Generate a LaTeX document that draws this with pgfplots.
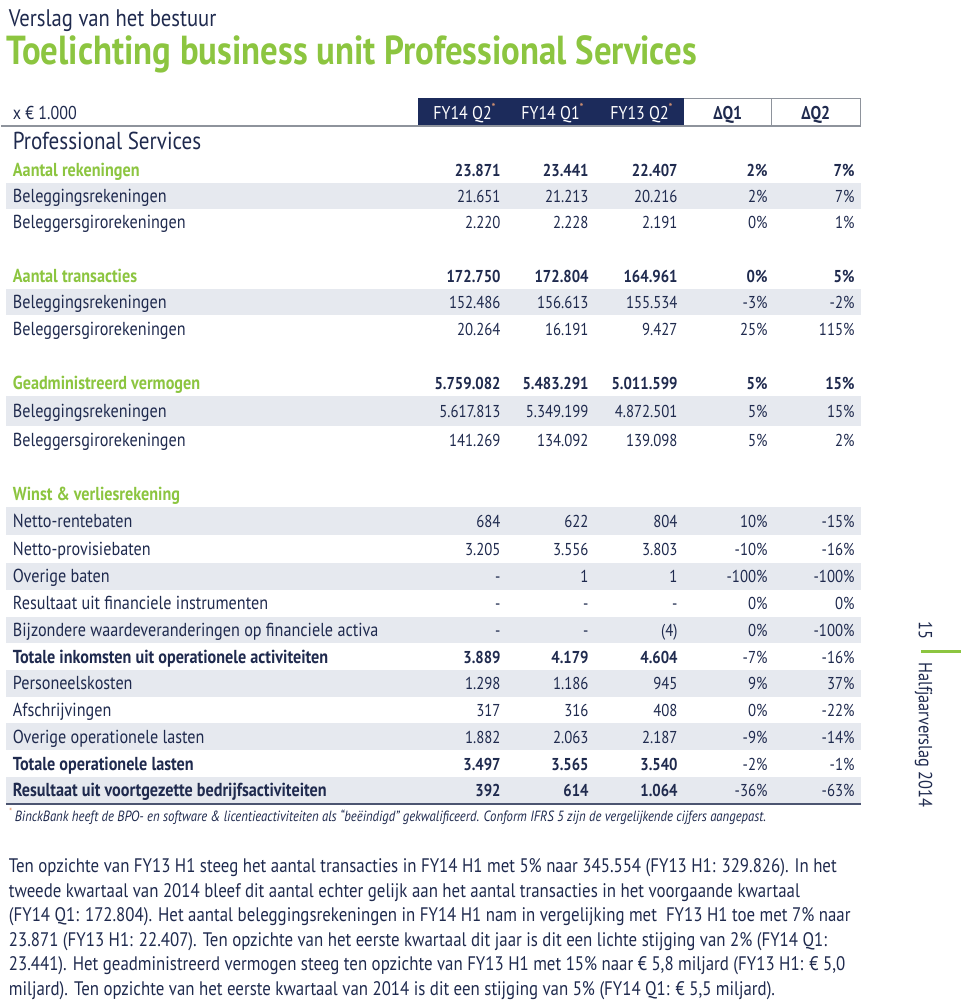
\documentclass[border=0pt]{standalone}
\usepackage{fontspec}
\setmainfont[FakeStretch=0.86]{PT Sans}
\usepackage{pgfplots}
\pgfplotsset{compat=1.18}
\definecolor{navy}{HTML}{1F2A4E}
\definecolor{hdr}{HTML}{1C2B5B}
\definecolor{grn}{HTML}{8CC540}
\definecolor{shd}{HTML}{E6E9EF}
\definecolor{gline}{HTML}{8E939C}
\definecolor{ast}{HTML}{E39A73}
\newcommand\fs[1]{\fontsize{#1bp}{#1bp}\selectfont}
\newcommand\band[2]{\fill[shd] (axis cs:5,#1) rectangle (axis cs:860,#2);}
% row: baseline y, label, v1..v5, font
\newcommand\row[8]{%
  \node[anchor=base west,inner sep=0,text=navy,font=\fs{18.8}#8] at (axis cs:12,#1) {#2};
  \node[anchor=base east,inner sep=0,text=navy,font=\fs{17.2}#8] at (axis cs:500,#1) {#3};
  \node[anchor=base east,inner sep=0,text=navy,font=\fs{17.2}#8] at (axis cs:588,#1) {#4};
  \node[anchor=base east,inner sep=0,text=navy,font=\fs{17.2}#8] at (axis cs:677,#1) {#5};
  \node[anchor=base east,inner sep=0,text=navy,font=\fs{17.2}] at (axis cs:767,#1) {#6};
  \node[anchor=base east,inner sep=0,text=navy,font=\fs{17.2}] at (axis cs:854,#1) {#7};
}
\newcommand\grow[7]{%
  \node[anchor=base west,inner sep=0,text=grn,font=\fs{18.8}\bfseries] at (axis cs:12,#1) {#2};
  \node[anchor=base east,inner sep=0,text=navy,font=\fs{17.2}\bfseries] at (axis cs:500,#1) {#3};
  \node[anchor=base east,inner sep=0,text=navy,font=\fs{17.2}\bfseries] at (axis cs:588,#1) {#4};
  \node[anchor=base east,inner sep=0,text=navy,font=\fs{17.2}\bfseries] at (axis cs:677,#1) {#5};
  \node[anchor=base east,inner sep=0,text=navy,font=\fs{17.2}\bfseries] at (axis cs:767,#1) {#6};
  \node[anchor=base east,inner sep=0,text=navy,font=\fs{17.2}\bfseries] at (axis cs:854,#1) {#7};
}
\newcommand\para[2]{\node[anchor=base west,inner sep=0,text=navy,font=\fs{19.6}] at (axis cs:8,#1) {#2};}
\begin{document}
\begin{tikzpicture}
\begin{axis}[x=1bp,y=1bp,y dir=reverse,xmin=0,xmax=960,ymin=0,ymax=1001,
  hide axis,clip=false]
\path (axis cs:0,0) rectangle (axis cs:960,1001);
% titles
\node[anchor=base west,inner sep=0,text=navy,font=\fs{24}] at (axis cs:8,26) {Verslag van het bestuur};
\node[anchor=base west,inner sep=0,text=grn,font=\fs{40.5}\bfseries] at (axis cs:6,64) {Toelichting business unit Professional Services};
% header
\fill[hdr] (axis cs:417,98) rectangle (axis cs:683,126);
\draw[gline,line width=1.2bp] (axis cs:683,98.5) -- (axis cs:860,98.5) -- (axis cs:860,126);
\draw[gline,line width=1.2bp] (axis cs:771,98.5) -- (axis cs:771,126);
\draw[gline,line width=1.5bp] (axis cs:0,126) -- (axis cs:860,126);
\node[anchor=base west,inner sep=0,text=navy,font=\fs{18.6}] at (axis cs:12,119) {x € 1.000};
\node[anchor=base,inner sep=0,text=white,font=\fs{18.5}] at (axis cs:464,119) {FY14 Q2\textsuperscript{\textcolor{ast}{*}}};
\node[anchor=base,inner sep=0,text=white,font=\fs{18.5}] at (axis cs:552,119) {FY14 Q1\textsuperscript{\textcolor{ast}{*}}};
\node[anchor=base,inner sep=0,text=white,font=\fs{18.5}] at (axis cs:641,119) {FY13 Q2\textsuperscript{\textcolor{ast}{*}}};
\node[anchor=base,inner sep=0,text=navy,font=\fs{18.5}\bfseries] at (axis cs:727,119) {ΔQ1};
\node[anchor=base,inner sep=0,text=navy,font=\fs{18.5}\bfseries] at (axis cs:815,119) {ΔQ2};
\node[anchor=base west,inner sep=0,text=navy,font=\fs{24.5}] at (axis cs:12,149) {Professional Services};
% bands
\band{183}{209}
\band{289}{315}
\band{396}{426}
\band{507}{535}
\band{563}{590}
\band{617}{643}
\band{670}{697}
\band{723}{750}
\band{777}{803}
% section 1
\grow{176}{Aantal rekeningen}{23.871}{23.441}{22.407}{2\%}{7\%}
\row{202}{Beleggingsrekeningen}{21.651}{21.213}{20.216}{2\%}{7\%}{}
\row{228}{Beleggersgirorekeningen}{2.220}{2.228}{2.191}{0\%}{1\%}{}
% section 2
\grow{282}{Aantal transacties}{172.750}{172.804}{164.961}{0\%}{5\%}
\row{308}{Beleggingsrekeningen}{152.486}{156.613}{155.534}{-3\%}{-2\%}{}
\row{335}{Beleggersgirorekeningen}{20.264}{16.191}{9.427}{25\%}{115\%}{}
% section 3
\grow{389}{Geadministreerd vermogen}{5.759.082}{5.483.291}{5.011.599}{5\%}{15\%}
\row{417}{Beleggingsrekeningen}{5.617.813}{5.349.199}{4.872.501}{5\%}{15\%}{}
\row{446}{Beleggersgirorekeningen}{141.269}{134.092}{139.098}{5\%}{2\%}{}
% section 4
\node[anchor=base west,inner sep=0,text=grn,font=\fs{18.8}\bfseries] at (axis cs:12,500) {Winst \& verliesrekening};
\row{527}{Netto-rentebaten}{684}{622}{804}{10\%}{-15\%}{}
\row{555}{Netto-provisiebaten}{3.205}{3.556}{3.803}{-10\%}{-16\%}{}
\row{582}{Overige baten}{-}{1}{1}{-100\%}{-100\%}{}
\row{609}{Resultaat uit financiele instrumenten}{-}{-}{-}{0\%}{0\%}{}
\row{636}{Bijzondere waardeveranderingen op financiele activa}{-}{-}{(4)}{0\%}{-100\%}{}
\row{663}{Totale inkomsten uit operationele activiteiten}{3.889}{4.179}{4.604}{-7\%}{-16\%}{\bfseries}
\row{689}{Personeelskosten}{1.298}{1.186}{945}{9\%}{37\%}{}
\row{716}{Afschrijvingen}{317}{316}{408}{0\%}{-22\%}{}
\row{743}{Overige operationele lasten}{1.882}{2.063}{2.187}{-9\%}{-14\%}{}
\row{770}{Totale operationele lasten}{3.497}{3.565}{3.540}{-2\%}{-1\%}{\bfseries}
\row{796}{Resultaat uit voortgezette bedrijfsactiviteiten}{392}{614}{1.064}{-36\%}{-63\%}{\bfseries}
\draw[navy!80,line width=1.3bp] (axis cs:5,804) -- (axis cs:860,804);
% footnote
\node[anchor=base west,inner sep=0,text=navy,font=\fs{14.8}\itshape] at (axis cs:8,821) {\textsuperscript{\textcolor{ast}{*}}\,BinckBank heeft de BPO- en software \& licentieactiviteiten als “beëindigd” gekwalificeerd. Conform IFRS 5 zijn de vergelijkende cijfers aangepast.};
% side
\draw[grn,line width=3bp] (axis cs:920,651) -- (axis cs:960,651);
\node[rotate=-90,anchor=base west,inner sep=0,text=navy,font=\fs{19}] at (axis cs:918,621) {15};
\node[rotate=-90,anchor=base west,inner sep=0,text=navy,font=\fs{19}] at (axis cs:918,662) {Halfjaarverslag 2014};
% paragraph
\para{872}{Ten opzichte van FY13 H1 steeg het aantal transacties in FY14 H1 met 5\% naar 345.554 (FY13 H1: 329.826). In het}
\para{897}{tweede kwartaal van 2014 bleef dit aantal echter gelijk aan het aantal transacties in het voorgaande kwartaal}
\para{921}{(FY14 Q1: 172.804). Het aantal beleggingsrekeningen in FY14 H1 nam in vergelijking met \ FY13 H1 toe met 7\% naar}
\para{946}{23.871 (FY13 H1: 22.407). Ten opzichte van het eerste kwartaal dit jaar is dit een lichte stijging van 2\% (FY14 Q1:}
\para{970}{23.441). Het geadministreerd vermogen steeg ten opzichte van FY13 H1 met 15\% naar € 5,8 miljard (FY13 H1: € 5,0}
\para{995}{miljard). Ten opzichte van het eerste kwartaal van 2014 is dit een stijging van 5\% (FY14 Q1: € 5,5 miljard).}
\end{axis}
\end{tikzpicture}
\end{document}
